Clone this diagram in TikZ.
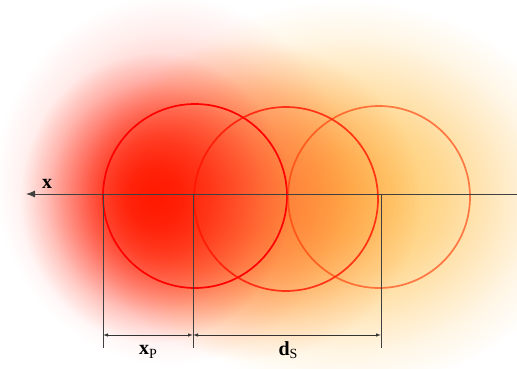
\documentclass[tikz,border=0pt]{standalone}
\usepackage{fontspec}
\setmainfont{Liberation Serif}
\usetikzlibrary{arrows.meta,fadings}
\definecolor{hotred}{RGB}{255,25,0}
\definecolor{warmorange}{RGB}{255,130,40}
\definecolor{paleyellow}{RGB}{255,200,100}
\pgfdeclareradialshading{blobshade}{\pgfpoint{0bp}{0bp}}{color(0bp)=(white); color(5bp)=(white!92!black); color(10bp)=(white!72!black); color(15bp)=(white!45!black); color(20bp)=(white!18!black); color(25bp)=(black); color(50bp)=(black)}
\pgfdeclarefading{softedge}{\pgfuseshading{blobshade}}
\tikzset{
  ring/.style={line width=1.7pt},
  blob/.style={path fading=softedge},
  axisline/.style={draw=black!75, line width=1pt},
  dimline/.style={draw=black!80, line width=0.8pt, {Latex[length=5pt,width=3.5pt]}-{Latex[length=5pt,width=3.5pt]}},
  lbl/.style={font=\fontsize{20}{20}\selectfont\bfseries, inner sep=0pt}
}
\newcommand{\withsub}[2]{#1\raisebox{-0.35ex}{\fontsize{14}{14}\selectfont\mdseries #2}}

\begin{document}
\begin{tikzpicture}[x=1pt,y=-1pt]
  \useasboundingbox (0,0) rectangle (517,369);
  \fill[paleyellow, blob] (345,195) ellipse (240 and 195);
  \fill[warmorange, blob] (250,200) ellipse (170 and 160);
  \fill[hotred!60!white, blob, opacity=0.7] (170,180) ellipse (175 and 185);
  \fill[hotred, blob] (155,198) ellipse (135 and 145);

  \coordinate (c1) at (195,196);
  \coordinate (c2) at (286,199);
  \coordinate (c3) at (379,197);
  \draw[ring, red] (c1) circle (92);
  \draw[ring, red!85!orange, opacity=0.8] (c2) circle (92);
  \draw[ring, red!60!orange, opacity=0.6] (c3) circle (91);

  \coordinate (axr) at (517,194);
  \coordinate (axl) at (26,194);
  \draw[axisline, -{Latex[length=9pt,width=7pt]}] (axr) -- (axl);
  \node[lbl, anchor=south] (xlab) at (47,189) {x};

  \coordinate (p1) at (103,194);
  \coordinate (p2) at (193,194);
  \coordinate (p3) at (381,194);
  \coordinate (q1) at (103,348);
  \coordinate (q2) at (193,348);
  \coordinate (q3) at (381,348);
  \draw[axisline] (p1) -- (q1);
  \draw[axisline] (p2) -- (q2);
  \draw[axisline] (p3) -- (q3);

  \coordinate (d1) at (103,335);
  \coordinate (d2) at (193,335);
  \coordinate (d3) at (381,335);
  \draw[dimline] (d1) -- (d2);
  \draw[dimline] (d2) -- (d3);
  \node[lbl] (xp) at (148,352) {\withsub{x}{P}};
  \node[lbl] (ds) at (288,350) {\withsub{d}{S}};
\end{tikzpicture}
\end{document}
